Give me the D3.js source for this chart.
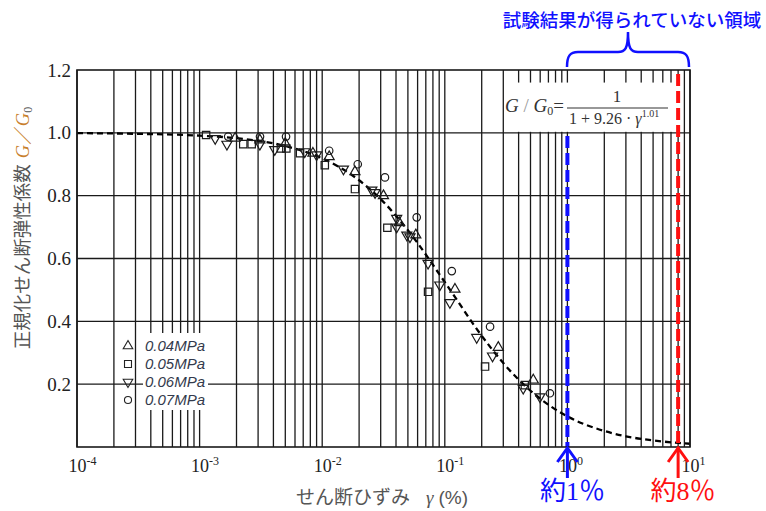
<!DOCTYPE html>
<html><head><meta charset="utf-8">
<script src="https://cdn.jsdelivr.net/npm/d3@7"></script>
<style>body{margin:0;background:#fff}svg{display:block}</style>
</head><body>
<svg id="c" width="766" height="511"></svg>
<script>
// ---- data ----
const xTickValues = [1e-4, 1e-3, 1e-2, 1e-1, 1, 10];
const xTickExponents = ["-4", "-3", "-2", "-1", "0", "1"];
const yTickValues = [0.2, 0.4, 0.6, 0.8, 1.0, 1.2];
const seriesNames = ["0.04MPa", "0.05MPa", "0.06MPa", "0.07MPa"];
// [shear strain γ (%), G/G0]
const s004 = [[1.95e-3,.983],[3.1e-3,.977],[5.0e-3,.966],[8.4e-3,.935],[1.14e-2,.924],[1.85e-2,.876],[3.16e-2,.80],[4.25e-2,.714],[5.8e-2,.675],[0.121,.502],[0.273,.317],[0.527,.213]];
const s005 = [[1.13e-3,.993],[2.27e-3,.964],[2.66e-3,.964],[4.6e-3,.950],[5.1e-3,.950],[6.6e-3,.935],[1.05e-2,.897],[1.85e-2,.821],[3.4e-2,.698],[7.3e-2,.494],[0.213,.256],[0.45,.197]];
const s006 = [[1.34e-3,.982],[1.67e-3,.964],[3.1e-3,.964],[4.1e-3,.947],[7.2e-3,.94],[9.0e-3,.93],[1.49e-2,.885],[2.54e-2,.818],[2.7e-2,.81],[4.05e-2,.728],[4.05e-2,.70],[4.9e-2,.675],[5.2e-2,.669],[7.3e-2,.585],[9.1e-2,.516],[0.110,.46],[0.182,.349],[0.245,.29],[0.436,.187],[0.597,.16]];
const s007 = [[1.71e-3,.988],[3.11e-3,.988],[5.07e-3,.988],[1.14e-2,.943],[1.95e-2,.90],[3.25e-2,.858],[5.9e-2,.731],[0.114,.56],[0.234,.383],[0.72,.171]];
// fitted curve
const curveX = [1e-4,3e-4,1e-3,2e-3,5e-3,1e-2,2e-2,3e-2,5e-2,0.1,0.2,0.3,0.5,1,2,3,5,8,10];
const curveY = [0.999,0.997,0.991,0.983,0.958,0.919,0.849,0.789,0.690,0.525,0.354,0.267,0.179,0.0975,0.051,0.034,0.021,0.013,0.0104];
const markerLimits = [1, 8]; // 約1%, 約8%

const svg = d3.select("#c");
const L = 77, R = 690, T = 70, B = 447;
const x = d3.scaleLog().domain([1e-4, 10]).range([L, R]);
const y = d3.scaleLinear().domain([0, 1.2]).range([B, T]);
const serif = "'Liberation Serif','Times New Roman',serif";
const jp = "'Noto Sans CJK JP','Noto Sans',sans-serif";

// grid
const gridX = [];
for (let d = -4; d <= 0; d++) for (let k = 1; k <= 9; k++) gridX.push(k * Math.pow(10, d));
gridX.push(10);
const g = svg.append("g").attr("stroke", "#1a1a1a").attr("stroke-width", 1.3);
g.selectAll("line.v").data(gridX).join("line")
  .attr("x1", d => x(d)).attr("x2", d => x(d)).attr("y1", T).attr("y2", B);
g.selectAll("line.h").data(yTickValues.slice(0, 5)).join("line")
  .attr("x1", L).attr("x2", R).attr("y1", d => y(d)).attr("y2", d => y(d));

// white boxes behind formula and legend
svg.append("rect").attr("x", x(0.3) + 1).attr("y", y(1.16)).attr("width", x(8.55) - x(0.3) - 1)
  .attr("height", y(1.0) - y(1.16) - 1).attr("fill", "#fff");
svg.append("rect").attr("x", 143).attr("y", 333).attr("width", 65).attr("height", 77).attr("fill", "#fff");

// fitted curve
const line = d3.line().x(d => x(d[0])).y(d => y(d[1])).curve(d3.curveMonotoneX);
svg.append("path").datum(curveX.map((v, i) => [v, curveY[i]]))
  .attr("d", line).attr("fill", "none").attr("stroke", "#000")
  .attr("stroke-width", 2.3).attr("stroke-dasharray", "6,4");

// limit lines
svg.append("line").attr("x1", x(markerLimits[0])).attr("x2", x(markerLimits[0]))
  .attr("y1", y(0.99)).attr("y2", B).attr("stroke", "#1010ff").attr("stroke-width", 4)
  .attr("stroke-dasharray", "12,5");
svg.append("line").attr("x1", x(markerLimits[1])).attr("x2", x(markerLimits[1]))
  .attr("y1", T + 4).attr("y2", B).attr("stroke", "#ff1010").attr("stroke-width", 4)
  .attr("stroke-dasharray", "12,5");

// data markers
const sym = [
  {t: d3.symbolTriangle, s: 44, r: 0},
  {t: d3.symbolSquare, s: 54, r: 0},
  {t: d3.symbolTriangle, s: 44, r: 180},
  {t: d3.symbolCircle, s: 44, r: 0}
];
[s004, s005, s006, s007].forEach((arr, i) => {
  svg.append("g").selectAll("path").data(arr).join("path")
    .attr("d", d3.symbol().type(sym[i].t).size(sym[i].s))
    .attr("transform", d => `translate(${x(d[0])},${y(d[1])}) rotate(${sym[i].r})`)
    .attr("fill", "none").attr("stroke", "#1a1a1a").attr("stroke-width", 1.2);
});

// border
svg.append("rect").attr("x", L).attr("y", T).attr("width", R - L).attr("height", B - T)
  .attr("fill", "none").attr("stroke", "#1a1a1a").attr("stroke-width", 1.6);

// axes
const xa = svg.append("g").attr("transform", `translate(0,${B})`)
  .call(d3.axisBottom(x).tickValues(xTickValues).tickSize(0).tickFormat(() => ""));
xa.select(".domain").remove();
xa.selectAll(".tick").each(function(d, i) {
  const t = d3.select(this).append("text").attr("y", 25).attr("fill", "#222")
    .attr("font-family", serif).attr("font-size", 18).attr("text-anchor", "start").attr("x", -9);
  t.append("tspan").text("10");
  t.append("tspan").attr("dy", -7).attr("font-size", 12).text(xTickExponents[i]);
});
const ya = svg.append("g").attr("transform", `translate(${L},0)`)
  .call(d3.axisLeft(y).tickValues(yTickValues).tickSize(0).tickPadding(6).tickFormat(d3.format(".1f")));
ya.select(".domain").remove();
ya.selectAll("text").attr("font-family", serif).attr("font-size", 19).attr("fill", "#222");

// legend
const lg = svg.append("g");
seriesNames.forEach((n, i) => {
  const cy = 346 + i * 18;
  lg.append("path").attr("d", d3.symbol().type(sym[i].t).size(sym[i].s * 0.9))
    .attr("transform", `translate(128,${cy}) rotate(${sym[i].r})`)
    .attr("fill", "none").attr("stroke", "#222").attr("stroke-width", 1.1);
  lg.append("text").attr("x", 145).attr("y", cy).attr("dy", "0.35em")
    .attr("font-family", "'Liberation Sans',Arial,sans-serif").attr("font-style", "italic")
    .attr("font-size", 15).attr("fill", "#333a4c").text(n);
});

// formula
const f = svg.append("g").attr("font-family", serif).attr("fill", "#333");
const f1 = f.append("text").attr("x", 505).attr("y", 112).attr("font-size", 19);
f1.append("tspan").attr("font-style", "italic").text("G");
f1.append("tspan").attr("fill", "#999").text(" / ");
f1.append("tspan").attr("font-style", "italic").text("G");
f1.append("tspan").attr("font-size", 12).attr("dy", 3).text("0");
f1.append("tspan").attr("dy", -3).text("=");
f.append("text").attr("x", 617).attr("y", 102).attr("text-anchor", "middle").attr("font-size", 17).text("1");
f.append("line").attr("x1", 567).attr("x2", 668).attr("y1", 108).attr("y2", 108).attr("stroke", "#333").attr("stroke-width", 1.2);
const f2 = f.append("text").attr("x", 569).attr("y", 124).attr("font-size", 16);
f2.append("tspan").text("1 + 9.26 · ");
f2.append("tspan").attr("font-style", "italic").text("γ");
f2.append("tspan").attr("font-size", 10).attr("dy", -7).text("1.01");

// annotation brace + title
svg.append("path")
  .attr("d", "M567,67 C567,56 570,52 578,52 L618,52 C625,52 628,49 628,32 C628,49 631,52 638,52 L678,52 C686,52 689,56 689,67")
  .attr("fill", "none").attr("stroke", "#1010ff").attr("stroke-width", 2.5);
svg.append("text").attr("x", 632).attr("y", 21).attr("dy", "0.35em").attr("text-anchor", "middle")
  .attr("font-family", jp).attr("font-size", 18.5).attr("font-weight", 500).attr("fill", "#1010ff")
  .text("試験結果が得られていない領域");

// arrows and labels
[[markerLimits[0], "#1010ff", "約1％"], [markerLimits[1], "#ff1010", "約8％"]].forEach(([v, c, lab]) => {
  const ax = x(v);
  svg.append("line").attr("x1", ax).attr("x2", ax).attr("y1", B).attr("y2", 478).attr("stroke", c).attr("stroke-width", 3);
  svg.append("path").attr("d", `M${ax - 10},${B + 15} L${ax},${B + 1} L${ax + 10},${B + 15}`)
    .attr("fill", "none").attr("stroke", c).attr("stroke-width", 3);
  svg.append("text").attr("x", ax + 5).attr("y", 491).attr("dy", "0.35em").attr("text-anchor", "middle")
    .attr("font-family", serif + ",'Noto Sans CJK JP'").attr("font-size", 26).attr("fill", c).text(lab);
});

// axis titles
const xt = svg.append("text").attr("x", 382).attr("y", 497).attr("dy", "0.35em").attr("text-anchor", "middle")
  .attr("font-family", jp).attr("font-size", 19).attr("fill", "#555");
xt.append("tspan").text("せん断ひずみ");
xt.append("tspan").attr("dx", 16).attr("font-family", serif).attr("font-style", "italic").text("γ");
xt.append("tspan").attr("dx", 5).attr("font-family", "'Liberation Sans',Arial,sans-serif").text("(%)");

const yt = svg.append("text").attr("transform", "translate(23,228) rotate(-90)").attr("dy", "0.35em")
  .attr("text-anchor", "middle").attr("font-family", jp).attr("font-size", 18.5).attr("fill", "#555");
yt.append("tspan").text("正規化せん断弾性係数");
yt.append("tspan").attr("dx", 6).attr("font-family", serif).attr("font-style", "italic").attr("fill", "#c8802c").text("G");
yt.append("tspan").attr("fill", "#c8802c").text("／");
yt.append("tspan").attr("font-family", serif).attr("font-style", "italic").attr("fill", "#c8802c").text("G");
yt.append("tspan").attr("font-family", serif).attr("font-size", 12).attr("dy", 3).text("0");
</script>
</body></html>
